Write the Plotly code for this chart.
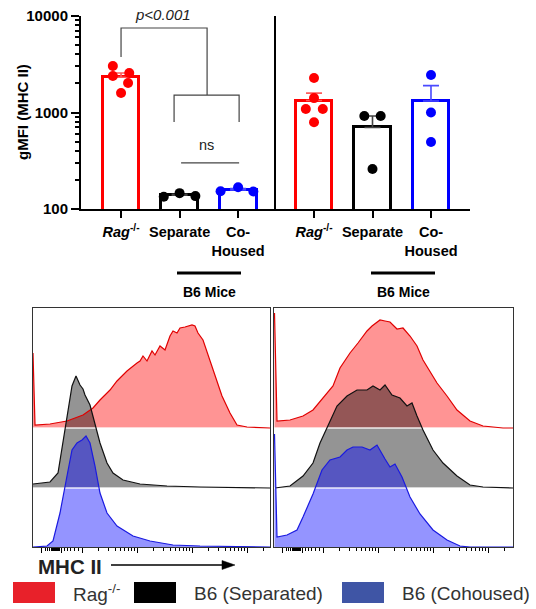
import numpy as np
import plotly.graph_objects as go

W, H = 536, 609
FONT = "Liberation Sans, Arial, sans-serif"


def px(x):
    return x / W


def py(y):
    return 1 - y / H


# ---------------- data: gMFI (MHC II) ----------------
tick_labels = ["<i>Rag</i><sup>-/-</sup>", "Separate", "Co-<br>Housed"]
gmfi_left_rag = [3030, 2570, 2390, 2020, 1590]
gmfi_left_separate = [134, 146, 136]
gmfi_left_cohoused = [153, 168, 152]
gmfi_right_rag = [2280, 1410, 1087, 1087, 794]
gmfi_right_separate = [920, 920, 260]
gmfi_right_cohoused = [2450, 1000, 494]

bar_colors = ["#ff0000", "#000000", "#0000ff"]
err_colors = ["#ff5a5a", "#444444", "#4a4aff"]

# ---------------- data: histograms (x = channel, h = count) ----------------
hl_red_x = [0, 2, 17, 34, 50, 60, 67, 77, 84, 94, 104, 107, 110, 114, 119, 122, 127, 132, 137, 140,
            144, 147, 152, 155, 159, 162, 165, 170, 175, 182, 189, 197, 204, 214, 237]
hl_red_h = [75, 3, 4, 7, 13, 20, 28, 38, 47, 57, 65, 67, 72, 67, 77, 73, 82, 78, 92, 97,
            95, 100, 101, 102, 103, 102, 95, 88, 73, 53, 32, 15, 3, 1, 0]
hl_black_x = [0, 17, 25, 30, 35, 39, 43, 45, 47, 50, 52, 57, 62, 67, 74, 80, 90, 107, 134, 167, 237]
hl_black_h = [4, 6, 15, 45, 78, 102, 112, 108, 103, 99, 93, 83, 65, 45, 25, 15, 8, 4, 2, 1, 0]
hl_blue_x = [0, 14, 20, 27, 34, 39, 44, 49, 53, 57, 62, 67, 74, 84, 100, 117, 140, 167, 237]
hl_blue_h = [0, 1, 6, 34, 71, 97, 104, 107, 111, 104, 81, 54, 34, 21, 11, 6, 2, 1, 0]

hr_red_x = [0.5, 3, 16, 29, 39, 49, 59, 66, 76, 84, 93, 98, 102, 106, 111, 116, 123, 129, 136, 143,
            149, 156, 163, 173, 183, 196, 209, 229, 239]
hr_red_h = [115, 7, 8, 12, 18, 30, 42, 60, 75, 85, 97, 102, 105, 108, 107, 106, 99, 100, 92, 82,
            68, 57, 45, 32, 18, 7, 2, 0, 0]
hr_black_x = [1, 16, 29, 39, 46, 54, 63, 73, 83, 93, 99, 106, 111, 118, 126, 133, 138, 143, 149,
              159, 169, 183, 196, 209, 239]
hr_black_h = [0, 2, 12, 25, 45, 63, 82, 92, 98, 98, 102, 98, 103, 93, 90, 82, 85, 72, 58,
              38, 25, 12, 3, 1, 0]
hr_blue_x = [0.5, 3, 13, 23, 29, 39, 48, 56, 66, 73, 79, 88, 96, 103, 111, 116, 121, 128, 136,
             146, 159, 173, 186, 196, 239]
hr_blue_h = [113, 10, 12, 17, 30, 53, 77, 87, 90, 97, 100, 100, 97, 102, 88, 80, 83, 70, 50,
             33, 17, 7, 1, 0, 0]

fig = go.Figure()

# ---------------- bar charts ----------------
BAR_W = 0.63
groups = [
    ("x", "y", [gmfi_left_rag, gmfi_left_separate, gmfi_left_cohoused],
     [[-0.14, 0.14, -0.14, 0.12, 0.0], [-0.27, 0.0, 0.27], [-0.30, 0.0, 0.26]]),
    ("x2", "y2", [gmfi_right_rag, gmfi_right_separate, gmfi_right_cohoused],
     [[0.0, 0.0, -0.14, 0.15, 0.0], [-0.14, 0.14, 0.0], [0.0, 0.0, 0.0]]),
]
for xa, ya, series, offs in groups:
    for i, vals in enumerate(series):
        v = np.array(vals, dtype=float)
        mean = v.mean()
        sem = v.std(ddof=1) / np.sqrt(len(v))
        fig.add_trace(go.Bar(
            x=[i], y=[mean], width=BAR_W, xaxis=xa, yaxis=ya,
            marker=dict(color="white", line=dict(color=bar_colors[i], width=3)),
            error_y=dict(type="data", array=[sem], arrayminus=[0], symmetric=False,
                         color=err_colors[i], thickness=1.6, width=8),
            hoverinfo="skip"))
        fig.add_trace(go.Scatter(
            x=[i + o for o in offs[i]], y=vals, mode="markers", xaxis=xa, yaxis=ya,
            marker=dict(color=bar_colors[i], size=10), cliponaxis=False, hoverinfo="skip"))

# significance brackets (data coordinates)
br_col = "#444444"
fig.add_trace(go.Scatter(x=[0.0, 0.0, 1.47, 1.47], y=[3760, 7510, 7510, 1517], mode="lines",
                         line=dict(color=br_col, width=1.2), xaxis="x", yaxis="y", hoverinfo="skip"))
fig.add_trace(go.Scatter(x=[0.906, 0.906, 2.017, 2.017], y=[797, 1517, 1517, 797], mode="lines",
                         line=dict(color=br_col, width=1.2), xaxis="x", yaxis="y", hoverinfo="skip"))
fig.add_trace(go.Scatter(x=[1.026, 2.017], y=[300, 300], mode="lines",
                         line=dict(color=br_col, width=1.2), xaxis="x", yaxis="y", hoverinfo="skip"))

# ---------------- histograms ----------------
fills = ["rgba(255,0,0,0.42)", "rgba(0,0,0,0.42)", "rgba(0,0,255,0.42)"]
lines = ["#e00000", "#111111", "#1a1ae0"]
bases = [119, 59, 0]
panels = [
    ("x3", "y3", [(hl_red_x, hl_red_h), (hl_black_x, hl_black_h), (hl_blue_x, hl_blue_h)], 237),
    ("x4", "y4", [(hr_red_x, hr_red_h), (hr_black_x, hr_black_h), (hr_blue_x, hr_blue_h)], 239),
]
for xa, ya, curves, xmax in panels:
    for k, (xs, hs) in enumerate(curves):
        b = bases[k]
        fig.add_trace(go.Scatter(
            x=list(xs) + [xs[-1], xs[0]], y=[b + h for h in hs] + [b, b],
            fill="toself", fillcolor=fills[k], mode="lines", line=dict(width=0),
            xaxis=xa, yaxis=ya, hoverinfo="skip"))
    for b in bases[:2]:
        fig.add_trace(go.Scatter(x=[0, xmax], y=[b, b], mode="lines",
                                 line=dict(color="rgba(255,255,255,0.85)", width=1.3),
                                 xaxis=xa, yaxis=ya, hoverinfo="skip"))
    for k, (xs, hs) in enumerate(curves):
        b = bases[k]
        fig.add_trace(go.Scatter(x=xs, y=[b + h for h in hs], mode="lines",
                                 line=dict(color=lines[k], width=1.2),
                                 xaxis=xa, yaxis=ya, hoverinfo="skip"))

# ---------------- axes ----------------
bar_x_common = dict(tickvals=[0, 1, 2], ticktext=tick_labels, ticks="outside", ticklen=7,
                    tickwidth=1.6, tickcolor="black", showline=True, linewidth=2, linecolor="black",
                    showgrid=False, zeroline=False, ticklabelstandoff=2, tickangle=0,
                    automargin=False,
                    tickfont=dict(family=FONT, size=14.5, color="black", weight="bold"))
minor_log = [k * 10 ** d for d in (2, 3) for k in range(2, 10)]
hist_major = [8, 28, 49, 104, 159, 214]
hist_minor = [12, 14, 16, 18, 19, 20, 21, 22, 23, 24, 25, 26, 31, 34, 37, 41, 45] + \
    [round(d + 55 * np.log10(k), 1) for d in (49, 104, 159) for k in range(2, 10)] + [230.6]
hist_x_common = dict(tickvals=hist_major, ticks="outside", ticklen=5, tickwidth=1, tickcolor="black",
                     showticklabels=False, showline=True, linewidth=1, linecolor="#333333",
                     mirror=True, showgrid=False, zeroline=False, automargin=False,
                     minor=dict(tickvals=hist_minor, ticks="outside", ticklen=3, tickwidth=1,
                                tickcolor="black"))
hist_y_common = dict(range=[0, 239], showticklabels=False, ticks="", showline=True, linewidth=1,
                     linecolor="#333333", mirror=True, showgrid=False, zeroline=False,
                     automargin=False)

fig.update_layout(
    width=W, height=H, margin=dict(l=0, r=0, t=0, b=0, pad=0, autoexpand=False),
    paper_bgcolor="white", plot_bgcolor="white", showlegend=False, bargap=0,
    font=dict(family=FONT, color="black"),
    xaxis=dict(domain=[px(81), px(275)], range=[-0.684, 2.63], anchor="y", **bar_x_common),
    yaxis=dict(domain=[py(209), py(16)], type="log", range=[2, 4], anchor="x",
               tickvals=[100, 1000, 10000], ticktext=["100", "1000", "10000"],
               ticks="outside", ticklen=8, tickwidth=2, tickcolor="black", automargin=False,
               showline=True, linewidth=2, linecolor="black", showgrid=False, zeroline=False,
               tickfont=dict(family=FONT, size=15, color="black", weight="bold"),
               minor=dict(tickvals=minor_log, ticks="outside", ticklen=4, tickwidth=1.5,
                          tickcolor="black")),
    xaxis2=dict(domain=[px(276), px(470)], range=[-0.65, 2.667], anchor="y2", **bar_x_common),
    yaxis2=dict(domain=[py(209), py(16)], type="log", range=[2, 4], anchor="x2",
                showticklabels=False, ticks="", showline=True, linewidth=2, linecolor="black",
                showgrid=False, zeroline=False, automargin=False),
    xaxis3=dict(domain=[px(33), px(270)], range=[0, 237], anchor="y3", **hist_x_common),
    yaxis3=dict(domain=[py(547), py(308)], anchor="x3", **hist_y_common),
    xaxis4=dict(domain=[px(274), px(513)], range=[0, 239], anchor="y4", **hist_x_common),
    yaxis4=dict(domain=[py(547), py(308)], anchor="x4", **hist_y_common),
)

# ---------------- text & decorations ----------------
ann = []


def text(t, x, y, size, xanchor="center", color="black", angle=0):
    ann.append(dict(text=t, x=px(x), y=py(y), xref="paper", yref="paper", xanchor=xanchor,
                    yanchor="middle", textangle=angle, showarrow=False,
                    font=dict(family=FONT, size=size, color=color)))


text("<b>gMFI (MHC II)</b>", 22, 112, 15, angle=-90)
text("<i>p<0.001</i>", 163, 15, 15, color="#222222")
text("ns", 206, 145, 14.5, color="#222222")
for cx in (209, 403):
    text("<b>B6 Mice</b>", cx, 292, 14)
text("<b>MHC II</b>", 36, 566, 20.5, xanchor="left", color="#222222")

shapes = []
# arrow
shapes.append(dict(type="line", xref="paper", yref="paper", x0=px(111), x1=px(225),
                   y0=py(565), y1=py(565), line=dict(color="black", width=1.5)))
shapes.append(dict(type="path", xref="paper", yref="paper",
                   path=f"M {px(235)},{py(565)} L {px(222)},{py(560.5)} L {px(222)},{py(569.5)} Z",
                   fillcolor="black", line=dict(color="black", width=0.5)))

legend_items = [("Rag<sup>-/-</sup>", "#e8212a", 13, 71),
                ("B6 (Separated)", "#000000", 134, 192),
                ("B6 (Cohoused)", "#3f55a5", 342, 400)]
for label, col, x0, tx in legend_items:
    shapes.append(dict(type="rect", xref="paper", yref="paper", x0=px(x0), x1=px(x0 + 42),
                       y0=py(603), y1=py(582), fillcolor=col, line=dict(width=0)))
    text(label, tx, 593, 19, xanchor="left", color="#333333")
for x0, x1 in ((177, 241), (371, 435)):
    shapes.append(dict(type="line", xref="paper", yref="paper", x0=px(x0), x1=px(x1),
                       y0=py(273), y1=py(273), line=dict(color="black", width=3)))

fig.update_layout(annotations=ann, shapes=shapes)
fig.write_html("out.html")
